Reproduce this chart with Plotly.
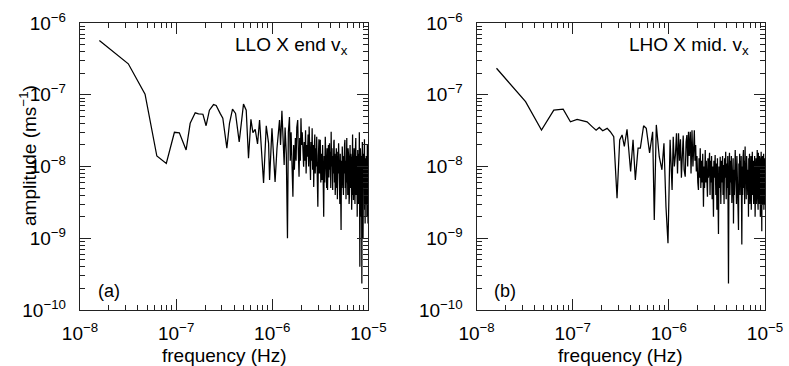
import plotly.graph_objects as go
from plotly.subplots import make_subplots

FONT = "Liberation Sans, Arial, Helvetica, sans-serif"

# frequencies in microhertz, amplitudes in nm/s (1e-9 m s^-1)
freq_llo = [
    0.0159, 0.0318, 0.0475, 0.063, 0.079, 0.096, 0.108, 0.127, 0.140, 0.158,
    0.171, 0.190, 0.205, 0.222, 0.245, 0.261, 0.287, 0.306, 0.337, 0.359,
    0.386, 0.415, 0.453, 0.502, 0.536, 0.566, 0.600, 0.629, 0.665, 0.703,
    0.738, 0.812, 0.866, 0.916, 0.938, 0.993, 1.07, 1.12, 1.19, 1.22,
    1.26, 1.29, 1.33, 1.36, 1.40, 1.44, 1.47, 1.51, 1.54, 1.57,
    1.60, 1.64, 1.67, 1.70, 1.74, 1.77, 1.80, 1.84, 1.87, 1.90,
    1.93, 1.96, 1.99, 2.02, 2.05, 2.09, 2.12, 2.15, 2.19, 2.22,
    2.25, 2.29, 2.32, 2.36, 2.39, 2.42, 2.46, 2.50, 2.53, 2.57,
    2.60, 2.63, 2.67, 2.70, 2.73, 2.77, 2.80, 2.83, 2.87, 2.90,
    2.94, 2.98, 3.02, 3.06, 3.10, 3.13, 3.16, 3.20, 3.24, 3.28,
    3.30, 3.34, 3.38, 3.43, 3.47, 3.51, 3.56, 3.60, 3.64, 3.68,
    3.72, 3.76, 3.80, 3.84, 3.88, 3.94, 3.98, 4.02, 4.06, 4.10,
    4.14, 4.18, 4.21, 4.25, 4.29, 4.33, 4.37, 4.40, 4.44, 4.48,
    4.52, 4.56, 4.60, 4.64, 4.68, 4.72, 4.76, 4.80, 4.85, 4.90,
    4.95, 5.00, 5.05, 5.10, 5.15, 5.20, 5.25, 5.30, 5.35, 5.40,
    5.45, 5.50, 5.55, 5.60, 5.65, 5.70, 5.75, 5.80, 5.85, 5.90,
    5.96, 6.00, 6.05, 6.10, 6.15, 6.20, 6.25, 6.30, 6.35, 6.40,
    6.45, 6.50, 6.55, 6.60, 6.65, 6.70, 6.75, 6.80, 6.85, 6.90,
    6.95, 7.00, 7.05, 7.10, 7.15, 7.20, 7.25, 7.30, 7.35, 7.40,
    7.45, 7.50, 7.55, 7.60, 7.65, 7.70, 7.75, 7.80, 7.85, 7.90,
    7.95, 8.00, 8.05, 8.10, 8.15, 8.20, 8.25, 8.30, 8.35, 8.40,
    8.45, 8.50, 8.55, 8.60, 8.65, 8.70, 8.75, 8.80, 8.85, 8.90,
    8.95, 9.00, 9.05, 9.10, 9.15, 9.20, 9.25, 9.30, 9.35, 9.40,
    9.45, 9.50, 9.55, 9.60, 9.65, 9.70, 9.75, 9.80, 9.85, 9.90,
    9.95, 10.0,
]
amp_llo = [
    570, 270, 102, 14, 11, 30, 29.5, 17, 40, 56,
    54, 53.5, 37, 61, 73, 71, 55, 47, 18, 40,
    63, 55, 22, 74, 61, 13, 45.5, 29.6, 33, 20.6,
    44.5, 5.9, 37, 21, 6.5, 34, 6.1, 18, 44.5, 20,
    60, 25, 10.5, 35, 15, 1.0, 30, 49, 12, 30,
    8, 3.8, 20, 9, 25, 12, 35, 44.5, 15, 7.2,
    25, 12, 47, 20, 30, 14, 9.9, 22, 12, 32,
    8, 20, 13.7, 28, 10, 36, 15, 6.5, 22, 12,
    34, 9, 20, 5.2, 15, 28, 8, 18, 10, 26,
    7, 2.75, 14, 24, 8, 18, 23.5, 6, 15, 10,
    6.5, 20, 8, 2.0, 14, 6, 26, 9, 16, 5,
    18, 4.7, 12, 20, 7, 21, 9, 16, 5, 30.5,
    10, 18, 6, 4.7, 14, 8, 22, 23.5, 6, 15,
    4, 12, 10, 18, 5, 14, 3.5, 16, 8, 21,
    5, 13, 3, 15, 7, 1.3, 12, 5, 19, 6,
    17, 4, 14, 8, 20, 23.5, 5, 12, 3.5, 16,
    25, 6, 14, 4, 18, 7, 13, 3, 3.8, 11,
    20, 5, 15, 8, 12, 2.5, 16, 6, 28, 4,
    14, 3.4, 10, 18, 5, 12, 3, 15, 7, 25,
    4, 11, 6, 14, 2.0, 9, 17, 5, 12, 3,
    15, 6, 30, 4, 0.4, 10, 18, 5, 12, 2,
    14, 6, 0.235, 11, 22, 4, 13, 1.0, 9, 15,
    3, 12, 6, 24, 2.5, 10, 1.6, 13, 5, 11,
    3, 14, 7, 12, 2, 9, 20, 4, 10, 1.6,
    12, 5,
]

freq_lho = [
    0.0161, 0.0323, 0.0473, 0.0635, 0.0795, 0.0946, 0.111, 0.141, 0.159, 0.175,
    0.189, 0.205, 0.228, 0.246, 0.267, 0.289, 0.308, 0.326, 0.344, 0.367,
    0.400, 0.424, 0.448, 0.478, 0.505, 0.546, 0.582, 0.630, 0.678, 0.705,
    0.740, 0.794, 0.847, 0.889, 0.933, 0.979, 1.03, 1.06, 1.08, 1.11,
    1.14, 1.17, 1.20, 1.23, 1.26, 1.29, 1.32, 1.35, 1.38, 1.41,
    1.44, 1.48, 1.51, 1.54, 1.57, 1.60, 1.63, 1.67, 1.70, 1.74,
    1.78, 1.81, 1.84, 1.87, 1.90, 1.93, 1.96, 2.00, 2.03, 2.06,
    2.09, 2.12, 2.15, 2.18, 2.21, 2.25, 2.29, 2.32, 2.35, 2.39,
    2.42, 2.45, 2.49, 2.52, 2.55, 2.58, 2.62, 2.65, 2.68, 2.72,
    2.75, 2.78, 2.82, 2.85, 2.88, 2.91, 2.94, 2.97, 3.03, 3.08,
    3.12, 3.16, 3.20, 3.24, 3.28, 3.32, 3.37, 3.42, 3.47, 3.52,
    3.57, 3.62, 3.66, 3.70, 3.75, 3.80, 3.85, 3.90, 3.95, 4.00,
    4.05, 4.10, 4.17, 4.22, 4.27, 4.32, 4.37, 4.42, 4.47, 4.52,
    4.57, 4.62, 4.66, 4.70, 4.75, 4.80, 4.90, 4.95, 5.00, 5.05,
    5.10, 5.15, 5.20, 5.25, 5.30, 5.35, 5.40, 5.45, 5.50, 5.55,
    5.60, 5.65, 5.70, 5.74, 5.80, 5.85, 5.90, 5.97, 6.02, 6.08,
    6.14, 6.21, 6.26, 6.32, 6.38, 6.44, 6.50, 6.56, 6.62, 6.68,
    6.73, 6.78, 6.84, 6.90, 6.96, 7.02, 7.08, 7.14, 7.20, 7.26,
    7.32, 7.38, 7.44, 7.50, 7.57, 7.62, 7.68, 7.74, 7.80, 7.89,
    7.94, 8.00, 8.06, 8.12, 8.18, 8.24, 8.30, 8.36, 8.42, 8.48,
    8.53, 8.58, 8.64, 8.70, 8.76, 8.82, 8.88, 8.94, 9.00, 9.06,
    9.12, 9.18, 9.26, 9.32, 9.38, 9.44, 9.50, 9.56, 9.62, 9.68,
    9.74, 9.80, 9.86, 9.92, 9.96, 10.0,
]
amp_lho = [
    234, 80, 32.3, 61, 63, 42, 45.5, 42, 36, 32,
    35, 31.5, 34, 30.5, 26, 3.6, 23.5, 27.5, 19, 33,
    8.5, 23.5, 6.5, 18, 18, 37, 34, 15.5, 30.5, 1.8,
    38, 13.7, 9, 21, 2.75, 0.85, 23.5, 9, 4.7, 26,
    10, 14.5, 29, 8, 29, 12, 24, 7, 13.7, 27,
    9, 7.2, 22, 27.5, 10, 30.5, 14, 30.5, 8, 32,
    10, 25, 32, 12, 20, 8.5, 14, 6, 4.7, 13,
    7, 18, 5, 12, 6, 15, 2.75, 10, 5, 17,
    6, 12, 4, 3.8, 13, 7, 11, 15.5, 4, 12,
    6, 14, 3.5, 10, 5, 2.0, 12, 7, 14.5, 4,
    11, 2.5, 13, 6, 1.15, 10, 5, 13.7, 3, 12,
    6, 14, 4, 10.5, 3, 13, 7, 16, 3.5, 11,
    5, 14, 0.235, 9, 15.5, 4, 12, 6, 14, 3.1,
    10, 5, 13, 1.6, 9, 4, 17, 5, 12, 3,
    14, 6, 10, 3.5, 1.3, 11, 5, 15, 4, 12,
    6, 14, 3, 0.82, 10, 4, 13, 17, 5, 12,
    3, 19, 6, 11, 3.5, 14, 5, 12, 4, 9,
    2.0, 13, 5, 15, 3, 11, 6, 14, 2.5, 10,
    5, 16, 4, 12, 12, 3, 9, 5, 14, 2.0,
    11, 5, 13, 3, 10, 6, 17, 4, 12, 2.5,
    15.5, 5, 11, 3, 14, 5, 12, 2, 10, 4,
    16, 6, 1.25, 12, 5, 14, 3, 10, 6, 15,
    2.5, 11, 4, 13, 3, 11,
]

x_ticks = [1e-8, 1e-7, 1e-6, 1e-5]
x_labels = ["10<sup>−8</sup>", "10<sup>−7</sup>", "10<sup>−6</sup>", "10<sup>−5</sup>"]
y_ticks = [1e-10, 1e-9, 1e-8, 1e-7, 1e-6]
y_labels = ["10<sup>−10</sup>", "10<sup>−9</sup>", "10<sup>−8</sup>",
            "10<sup>−7</sup>", "10<sup>−6</sup>"]

panels = [
    ("LLO X end v<sub>x</sub>", "(a)", freq_llo, amp_llo),
    ("LHO X mid. v<sub>x</sub>", "(b)", freq_lho, amp_lho),
]

fig = make_subplots(rows=1, cols=2, horizontal_spacing=0.158)

minor_x = [m * 10.0 ** e for e in range(-8, -5) for m in range(2, 10)]
minor_y = [m * 10.0 ** e for e in range(-10, -6) for m in range(2, 10)]

axis_common = dict(
    type="log", showgrid=False, zeroline=False, automargin=False,
    showline=True, linecolor="#222", linewidth=1.4, mirror="allticks",
    ticks="inside", ticklen=11, tickwidth=1, tickcolor="#222",
    tickfont=dict(family=FONT, size=19, color="black"),
)

for i, (label, tag, f, a) in enumerate(panels, start=1):
    fig.add_trace(go.Scatter(
        x=[v * 1e-6 for v in f], y=[v * 1e-9 for v in a],
        mode="lines", line=dict(color="black", width=1.25),
        showlegend=False, hoverinfo="skip",
    ), row=1, col=i)
    fig.update_xaxes(range=[-8, -5], tickmode="array", tickvals=x_ticks, ticktext=x_labels,
                     minor=dict(tickmode="array", tickvals=minor_x, ticks="inside",
                                ticklen=5, tickcolor="#222", showgrid=False),
                     ticklabelstandoff=6, **axis_common, row=1, col=i)
    fig.update_yaxes(range=[-10, -6], tickmode="array", tickvals=y_ticks, ticktext=y_labels,
                     minor=dict(tickmode="array", tickvals=minor_y, ticks="inside",
                                ticklen=5, tickcolor="#222", showgrid=False),
                     ticklabelstandoff=9, **axis_common, row=1, col=i)
    xd = "x domain" if i == 1 else "x2 domain"
    yd = "y domain" if i == 1 else "y2 domain"
    fig.add_annotation(text=label, xref=xd, yref=yd, x=0.95 if i == 2 else 0.935, y=0.97,
                       xanchor="right", yanchor="top", showarrow=False,
                       font=dict(family=FONT, size=19, color="black"))
    fig.add_annotation(text=tag, xref=xd, yref=yd, x=0.055, y=0.066,
                       xanchor="left", yanchor="middle", showarrow=False,
                       font=dict(family=FONT, size=18, color="black"))
    fig.add_annotation(text="frequency (Hz)", xref=xd, yref="paper",
                       x=0.5, y=-0.157,
                       xanchor="center", yanchor="middle", showarrow=False,
                       font=dict(family=FONT, size=19, color="black"))

fig.add_annotation(text="amplitude (ms<sup>−1</sup>)", xref="paper", yref="paper",
                   x=-0.076, y=0.54, textangle=-90, xanchor="center", yanchor="middle",
                   showarrow=False, font=dict(family=FONT, size=19, color="black"))

fig.update_layout(
    width=789, height=366,
    margin=dict(l=80, r=24, t=23, b=56),
    paper_bgcolor="white", plot_bgcolor="white",
    font=dict(family=FONT, color="black"),
)

# the page's default body margin would push the figure off the window edge
fig.write_html("out.html", config={"displayModeBar": False},
               post_script="document.body.style.margin = '0';")
